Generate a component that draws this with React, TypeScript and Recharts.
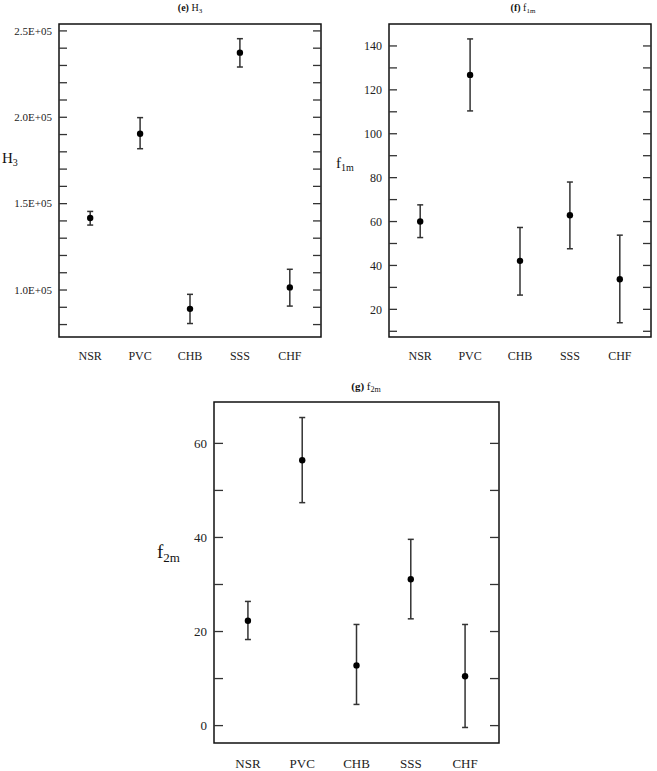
import React from 'react';
import { ScatterChart, Scatter, XAxis, YAxis, ErrorBar, ReferenceArea } from 'recharts';

const categories = ['NSR', 'PVC', 'CHB', 'SSS', 'CHF'];

// (e) H3
const h3Mean = [141700, 190500, 89100, 237400, 101500];
const h3Low = [137600, 181800, 80600, 229100, 90700];
const h3High = [145500, 199800, 97500, 245500, 112000];
const h3Ticks = [80000, 90000, 100000, 110000, 120000, 130000, 140000, 150000, 160000, 170000, 180000, 190000, 200000, 210000, 220000, 230000, 240000, 250000];
const h3Labeled = [100000, 150000, 200000, 250000];

// (f) f1m
const f1mMean = [60, 126.8, 42.1, 62.9, 33.7];
const f1mLow = [52.7, 110.4, 26.5, 47.6, 13.9];
const f1mHigh = [67.6, 143.2, 57.3, 78, 53.8];
const f1mTicks = [10, 20, 30, 40, 50, 60, 70, 80, 90, 100, 110, 120, 130, 140];
const f1mLabeled = [20, 40, 60, 80, 100, 120, 140];

// (g) f2m
const f2mMean = [22.3, 56.4, 12.8, 31.1, 10.5];
const f2mLow = [18.3, 47.4, 4.5, 22.7, -0.4];
const f2mHigh = [26.4, 65.5, 21.5, 39.6, 21.5];
const f2mTicks = [0, 10, 20, 30, 40, 50, 60];
const f2mLabeled = [0, 20, 40, 60];

const xPositions = [1, 2, 3, 4, 5];
const X_DOMAIN: [number, number] = [0.375, 5.625];
const FONT = '"Liberation Serif", "Times New Roman", serif';

function buildRows(mean: number[], low: number[], high: number[]) {
  return categories.map((c, i) => ({
    name: c,
    x: xPositions[i],
    y: mean[i],
    err: [mean[i] - low[i], high[i] - mean[i]],
  }));
}

type PanelProps = {
  left: number;
  top: number;
  width: number;
  height: number;
  plotL: number;
  plotT: number;
  plotR: number;
  plotB: number;
  domain: [number, number];
  ticks: number[];
  labeled: number[];
  fmt: (v: number) => string;
  rows: any[];
  tickLen: number;
  tickFont: number;
  xFont: number;
  xOffset: number;
};

function Panel(p: PanelProps) {
  const yTick = (props: any) => {
    const { y, payload } = props;
    const v = payload.value;
    const major = p.labeled.indexOf(v) >= 0;
    return (
      <g>
        <line x1={p.plotL} x2={p.plotL + p.tickLen} y1={y} y2={y} stroke="#333" strokeWidth={1.3} />
        <line x1={p.plotR - p.tickLen} x2={p.plotR} y1={y} y2={y} stroke="#333" strokeWidth={1.3} />
        {major && (
          <text x={p.plotL - 7} y={y} dy="0.35em" textAnchor="end" fontSize={p.tickFont} fontFamily={FONT} fill="#222">
            {p.fmt(v)}
          </text>
        )}
      </g>
    );
  };
  const xTick = (props: any) => {
    const { x, payload } = props;
    return (
      <text x={x} y={p.plotB + p.xOffset} dy="0.35em" textAnchor="middle" fontSize={p.xFont} fontFamily={FONT} fill="#222">
        {categories[payload.value - 1]}
      </text>
    );
  };
  return (
    <div style={{ position: 'absolute', left: p.left, top: p.top }}>
      <ScatterChart
        width={p.width}
        height={p.height}
        margin={{ top: p.plotT, left: 0, right: p.width - p.plotR, bottom: 0 }}
      >
        <XAxis
          type="number"
          dataKey="x"
          domain={X_DOMAIN}
          ticks={xPositions}
          interval={0}
          allowDataOverflow
          axisLine={false}
          tickLine={false}
          tick={xTick}
          height={p.height - p.plotB}
        />
        <YAxis
          type="number"
          dataKey="y"
          domain={p.domain}
          ticks={p.ticks}
          interval={0}
          allowDataOverflow
          axisLine={false}
          tickLine={false}
          tick={yTick}
          width={p.plotL}
        />
        <ReferenceArea
          x1={X_DOMAIN[0]}
          x2={X_DOMAIN[1]}
          y1={p.domain[0]}
          y2={p.domain[1]}
          fill="none"
          fillOpacity={0}
          stroke="#111"
          strokeWidth={1.5}
          ifOverflow="visible"
        />
        <Scatter
          data={p.rows}
          isAnimationActive={false}
          shape={(s: any) => <circle cx={s.cx} cy={s.cy} r={3.2} fill="#000" />}
        >
          <ErrorBar dataKey="err" direction="y" width={3} stroke="#333" strokeWidth={1.5} />
        </Scatter>
      </ScatterChart>
    </div>
  );
}

function Labels() {
  return (
    <svg width={657} height={771} style={{ position: 'absolute', left: 0, top: 0, pointerEvents: 'none' }}>
      <g fontFamily={FONT} fill="#111">
        <text x={190} y={11} textAnchor="middle" fontSize={10}>
          <tspan fontWeight="bold">(e)</tspan> H<tspan fontSize={7} dy={2}>3</tspan>
        </text>
        <text x={523} y={11} textAnchor="middle" fontSize={10}>
          <tspan fontWeight="bold">(f)</tspan> f<tspan fontSize={7} dy={2}>1m</tspan>
        </text>
        <text x={366} y={390} textAnchor="middle" fontSize={11}>
          <tspan fontWeight="bold">(g)</tspan> f<tspan fontSize={8} dy={2}>2m</tspan>
        </text>
        <text x={2} y={163} fontSize={15}>
          H<tspan fontSize={10} dy={3}>3</tspan>
        </text>
        <text x={336} y={168} fontSize={15}>
          f<tspan fontSize={10} dy={3}>1m</tspan>
        </text>
        <text x={157} y={558} fontSize={19}>
          f<tspan fontSize={13} dy={4}>2m</tspan>
        </text>
      </g>
    </svg>
  );
}

const fmtE = (v: number) => (v / 100000).toFixed(1) + 'E+05';
const fmtN = (v: number) => String(v);

export default function App() {
  return (
    <div style={{ position: 'absolute', left: 0, top: 0, width: 657, height: 771, background: '#fff' }}>
      <Panel
        left={0}
        top={0}
        width={330}
        height={370}
        plotL={59}
        plotT={24}
        plotR={321}
        plotB={337}
        domain={[72800, 254000]}
        ticks={h3Ticks}
        labeled={h3Labeled}
        fmt={fmtE}
        rows={buildRows(h3Mean, h3Low, h3High)}
        tickLen={8}
        tickFont={11}
        xFont={12}
        xOffset={19}
      />
      <Panel
        left={330}
        top={0}
        width={327}
        height={370}
        plotL={59}
        plotT={24}
        plotR={321}
        plotB={337}
        domain={[7.4, 150]}
        ticks={f1mTicks}
        labeled={f1mLabeled}
        fmt={fmtN}
        rows={buildRows(f1mMean, f1mLow, f1mHigh)}
        tickLen={8}
        tickFont={12}
        xFont={12}
        xOffset={19}
      />
      <Panel
        left={130}
        top={355}
        width={400}
        height={416}
        plotL={84}
        plotT={47}
        plotR={369}
        plotB={388}
        domain={[-3.7, 68.8]}
        ticks={f2mTicks}
        labeled={f2mLabeled}
        fmt={fmtN}
        rows={buildRows(f2mMean, f2mLow, f2mHigh)}
        tickLen={9}
        tickFont={13}
        xFont={13}
        xOffset={20}
      />
      <Labels />
    </div>
  );
}
